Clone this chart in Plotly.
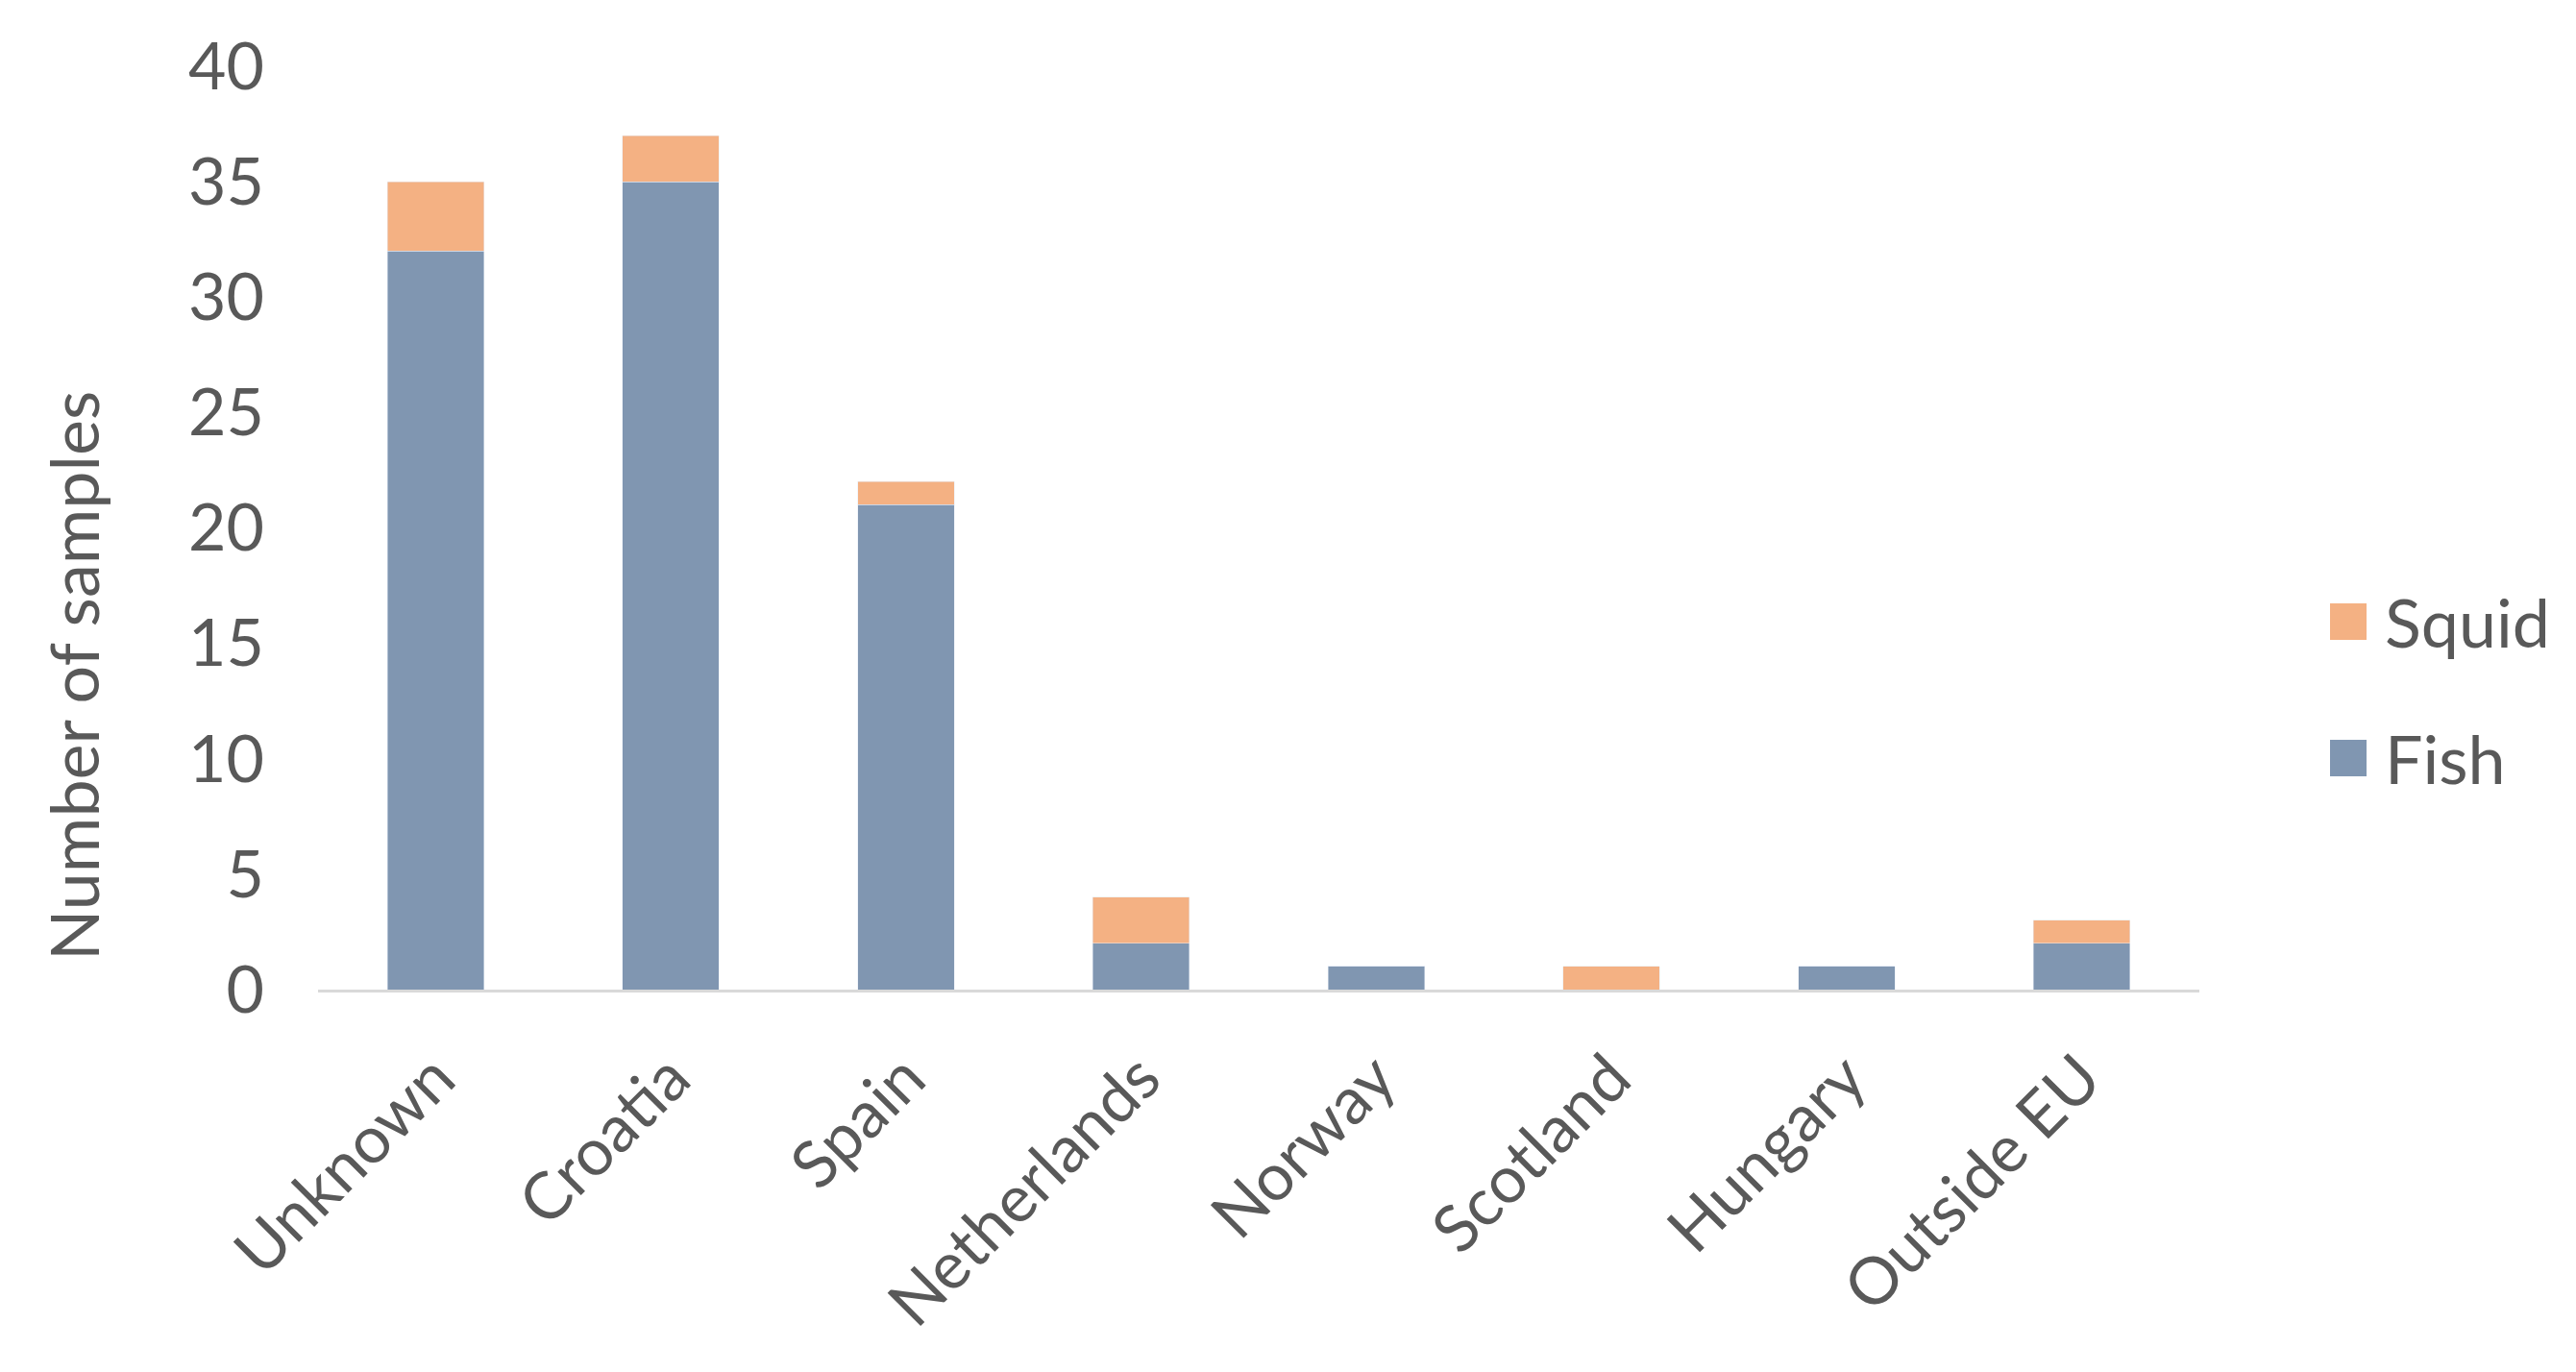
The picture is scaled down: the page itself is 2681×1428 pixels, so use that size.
import plotly.graph_objects as go

categories = ["Unknown", "Croatia", "Spain", "Netherlands", "Norway", "Scotland", "Hungary", "Outside EU"]
fish = [32, 35, 21, 2, 1, 0, 1, 2]
squid = [3, 2, 1, 2, 0, 1, 0, 1]
y_ticks = [0, 5, 10, 15, 20, 25, 30, 35, 40]

FISH_C = "#8096b1"
SQUID_C = "#f4b183"
TXT = "#595959"
FONT = "Lato, Open Sans, sans-serif"

fig = go.Figure()
fig.add_trace(go.Bar(x=categories, y=fish, name="Fish", marker_color=FISH_C, showlegend=False))
fig.add_trace(go.Bar(x=categories, y=squid, name="Squid", marker_color=SQUID_C, showlegend=False))

W, H = 2681, 1428
L, R, T, B = 323, 400, 61, 406
pw = W - L - R
ph = H - T - B

def px2paper_x(px):
    return (px - L) / pw

def px2paper_y(py):
    return (H - B - py) / ph

# manual legend (large swatches like the original)
legend_items = [("Squid", SQUID_C, 639), ("Fish", FISH_C, 781)]
shapes = []
annotations = []
for name, col, cy in legend_items:
    shapes.append(dict(type="rect", xref="paper", yref="paper",
                       x0=px2paper_x(2417), x1=px2paper_x(2455),
                       y0=px2paper_y(cy + 19), y1=px2paper_y(cy - 19),
                       fillcolor=col, line=dict(width=0)))
    annotations.append(dict(xref="paper", yref="paper", x=px2paper_x(2472), y=px2paper_y(cy),
                            text=name, showarrow=False, xanchor="left", yanchor="middle",
                            font=dict(family=FONT, size=70, color=TXT)))

# y-axis title (placed like the original, lower than the plot centre)
annotations.append(dict(xref="paper", yref="paper", x=px2paper_x(68), y=px2paper_y(696),
                        text="Number of samples", textangle=-90, showarrow=False,
                        xanchor="center", yanchor="middle",
                        font=dict(family=FONT, size=70, color=TXT)))

fig.update_layout(
    barmode="stack",
    bargap=0.59,
    width=W, height=H,
    margin=dict(l=L, r=R, t=T, b=B, autoexpand=False),
    paper_bgcolor="white", plot_bgcolor="white",
    font=dict(family=FONT, size=68, color=TXT),
    shapes=shapes,
    annotations=annotations,
    xaxis=dict(
        showline=True, linecolor="#d9d9d9", linewidth=3,
        tickangle=-45, ticks="", showgrid=False, ticklabelstandoff=22,
        tickfont=dict(family=FONT, size=68, color=TXT),
    ),
    yaxis=dict(
        range=[0, 40], tickvals=y_ticks, showgrid=False, zeroline=False,
        showline=False, ticks="", ticklabelstandoff=55,
        tickfont=dict(family=FONT, size=68, color=TXT),
    ),
)

fig.write_html("out.html")
